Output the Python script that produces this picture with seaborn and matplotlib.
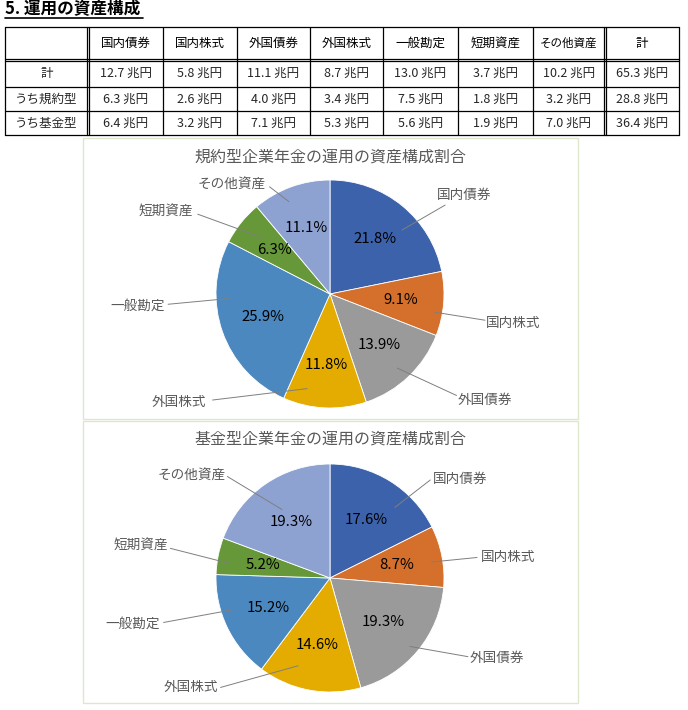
import matplotlib
matplotlib.use("Agg")
import matplotlib.pyplot as plt
import seaborn as sns
import numpy as np

# ---------------- data ----------------
categories = ['国内債券', '国内株式', '外国債券', '外国株式', '一般勘定', '短期資産', 'その他資産']
table_columns = categories + ['計']
row_labels = ['計', 'うち規約型', 'うち基金型']
total_vals = [12.7, 5.8, 11.1, 8.7, 13.0, 3.7, 10.2, 65.3]
kiyaku_vals = [6.3, 2.6, 4.0, 3.4, 7.5, 1.8, 3.2, 28.8]
kikin_vals = [6.4, 3.2, 7.1, 5.3, 5.6, 1.9, 7.0, 36.4]

pct_kiyaku = [21.8, 9.1, 13.9, 11.8, 25.9, 6.3, 11.1]
pct_kikin = [17.6, 8.7, 19.3, 14.6, 15.2, 5.2, 19.3]

page_title = '5. 運用の資産構成'
title_kiyaku = '規約型企業年金の運用の資産構成割合'
title_kikin = '基金型企業年金の運用の資産構成割合'

# ---------------- style ----------------
sns.set_theme(style='white')
plt.rcParams['font.family'] = ['Noto Sans CJK JP', 'DejaVu Sans']
palette = sns.color_palette(['#3c62ab', '#d4702c', '#9a9a9a', '#e4ac00',
                             '#4b88c0', '#66983a', '#8ea2d2'])

W, H = 688, 710
fig = plt.figure(figsize=(W / 100, H / 100), dpi=100)
ax = fig.add_axes([0, 0, 1, 1])


def Y(y):
    return H - y


# ---------------- page title ----------------
ax.text(5, Y(9), page_title, fontsize=12, fontweight='bold', ha='left',
        va='center', color='black')
ax.plot([5, 143], [Y(17.5), Y(17.5)], color='black', lw=1.2)

# ---------------- table ----------------
xe = [5, 88, 163, 237, 310, 383, 458, 533, 605, 679]
ye = [27, 60, 87, 111, 135]
lc = 'black'
lw = 0.9
for y in ye:
    if y == 60:
        for yy in (58.7, 61.3):
            ax.plot([xe[0], xe[-1]], [Y(yy), Y(yy)], color=lc, lw=lw)
    else:
        ax.plot([xe[0], xe[-1]], [Y(y), Y(y)], color=lc, lw=lw)
for i, x in enumerate(xe):
    if i in (1, 8):
        for xx in (x - 1.3, x + 1.3):
            ax.plot([xx, xx], [Y(ye[0]), Y(ye[-1])], color=lc, lw=lw)
    else:
        ax.plot([x, x], [Y(ye[0]), Y(ye[-1])], color=lc, lw=lw)

fs_tab = 9.0
for j, c in enumerate(table_columns):
    xc = (xe[j + 1] + xe[j + 2]) / 2
    ax.text(xc, Y((ye[0] + ye[1]) / 2), c, fontsize=fs_tab if len(c) < 5 else 8.3,
            ha='center', va='center', color='black')
for i, (lab, vals) in enumerate(zip(row_labels, [total_vals, kiyaku_vals, kikin_vals])):
    yc = Y((ye[i + 1] + ye[i + 2]) / 2)
    ax.text((xe[0] + xe[1]) / 2, yc, lab, fontsize=fs_tab, ha='center', va='center')
    for j, v in enumerate(vals):
        xc = (xe[j + 1] + xe[j + 2]) / 2
        ax.text(xc, yc, f'{v:.1f} 兆円', fontsize=fs_tab, ha='center', va='center')

# ---------------- pie charts ----------------
R = 114
label_layout = {
    'kiyaku': {
        '国内債券': ((1.18, 0.87), (1.01, 0.78), (0.63, 0.56)),
        '国内株式': ((1.61, -0.25), (1.36, -0.23), (0.92, -0.16)),
        '外国債券': ((1.36, -0.93), (1.11, -0.89), (0.59, -0.65)),
        '外国株式': ((-1.33, -0.95), (-1.03, -0.93), (-0.20, -0.83)),
        '一般勘定': ((-1.69, -0.10), (-1.42, -0.09), (-0.89, -0.04)),
        '短期資産': ((-1.44, 0.72), (-1.16, 0.70), (-0.61, 0.50)),
        'その他資産': ((-0.86, 0.96), (-0.53, 0.94), (-0.36, 0.81)),
    },
    'kikin': {
        '国内債券': ((1.14, 0.87), (0.88, 0.86), (0.57, 0.62)),
        '国内株式': ((1.56, 0.18), (1.29, 0.18), (0.89, 0.14)),
        '外国債券': ((1.46, -0.70), (1.21, -0.69), (0.70, -0.60)),
        '外国株式': ((-1.22, -0.96), (-0.96, -0.96), (-0.28, -0.77)),
        '一般勘定': ((-1.73, -0.40), (-1.46, -0.39), (-0.86, -0.28)),
        '短期資産': ((-1.66, 0.28), (-1.40, 0.26), (-0.89, 0.13)),
        'その他資産': ((-1.21, 0.90), (-0.90, 0.89), (-0.42, 0.60)),
    },
}

charts = [
    dict(key='kiyaku', pct=pct_kiyaku, title=title_kiyaku, box=(83, 138, 578, 419),
         center=(330, 294), title_y=157, pctdist=0.62),
    dict(key='kikin', pct=pct_kikin, title=title_kikin, box=(83, 421, 578, 703),
         center=(330, 578), title_y=439, pctdist=0.6),
]

for ch in charts:
    x0, y0, x1, y1 = ch['box']
    ax.add_patch(plt.Rectangle((x0, Y(y1)), x1 - x0, y1 - y0, fill=False,
                               edgecolor='#dce7cc', lw=1.0))
    cx, cy = ch['center']
    ax.text(cx, Y(ch['title_y']), ch['title'], fontsize=11.5, color='#595959',
            ha='center', va='center')
    wedges, _ = ax.pie(ch['pct'], colors=palette, startangle=90, counterclock=False,
                       center=(cx, Y(cy)), radius=R, frame=True,
                       wedgeprops=dict(edgecolor='white', linewidth=0.6))
    for w, p in zip(wedges, ch['pct']):
        mid = np.deg2rad((w.theta1 + w.theta2) / 2)
        ax.text(cx + ch['pctdist'] * R * np.cos(mid), Y(cy) + ch['pctdist'] * R * np.sin(mid),
                f'{p:.1f}%', fontsize=10.8, color='black', ha='center', va='center')
    for cat in categories:
        (tx, ty), (ox, oy), (ix, iy) = label_layout[ch['key']][cat]
        ax.plot([cx + ox * R, cx + ix * R], [Y(cy) + oy * R, Y(cy) + iy * R],
                color='#7f7f7f', lw=0.7)
        ax.text(cx + tx * R, Y(cy) + ty * R, cat, fontsize=9.8, color='#595959',
                ha='center', va='center')

ax.set_xlim(0, W)
ax.set_ylim(0, H)
ax.set_aspect('auto')
ax.axis('off')

fig.savefig('out.png', dpi=100, facecolor='white')
